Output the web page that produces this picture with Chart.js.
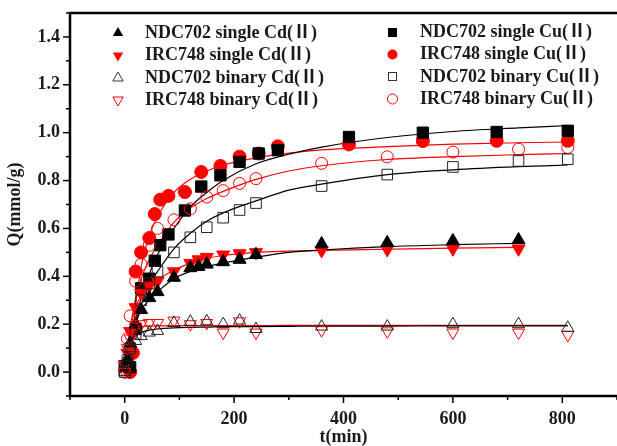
<!DOCTYPE html>
<html>
<head>
<meta charset="utf-8">
<script src="https://cdn.jsdelivr.net/npm/chart.js@4.4.1/dist/chart.umd.min.js"></script>
<style>
  html, body { margin: 0; padding: 0; background: #fff; }
</style>
</head>
<body>
<canvas id="myChart" width="617" height="446"></canvas>
<script>
// measured points, t in min, Q in mmol/g
var tCdSingle = [0, 5, 10, 20, 30, 45, 60, 90, 120, 135, 150, 180, 210, 240, 360, 480, 600, 720];
var ndcSingleCd = [0.02, 0.05, 0.12, 0.2, 0.26, 0.31, 0.335, 0.395, 0.435, 0.44, 0.45, 0.46, 0.47, 0.49, 0.535, 0.54, 0.548, 0.552];
var ircSingleCd = [0.03, 0.08, 0.17, 0.27, 0.33, 0.36, 0.38, 0.42, 0.455, 0.47, 0.48, 0.49, 0.495, 0.5, 0.508, 0.512, 0.515, 0.515];

var tBinary = [0, 5, 10, 20, 30, 45, 60, 90, 120, 150, 180, 210, 240, 360, 480, 600, 720, 810];
var ndcBinaryCd = [0.0, 0.06, 0.1, 0.13, 0.15, 0.165, 0.172, 0.205, 0.21, 0.212, 0.2, 0.215, 0.18, 0.19, 0.19, 0.2, 0.2, 0.185];
var ircBinaryCd = [0.0, 0.1, 0.14, 0.19, 0.2, 0.205, 0.205, 0.215, 0.2, 0.205, 0.165, 0.212, 0.165, 0.175, 0.17, 0.165, 0.165, 0.155];
var ndcBinaryCu = [0.0, 0.05, 0.1, 0.16, 0.3, 0.37, 0.42, 0.5, 0.563, 0.605, 0.645, 0.677, 0.706, 0.777, 0.825, 0.857, 0.882, 0.889];
var ircBinaryCu = [0.0, 0.14, 0.235, 0.38, 0.45, 0.53, 0.6, 0.636, 0.682, 0.731, 0.758, 0.788, 0.808, 0.872, 0.899, 0.919, 0.931, 0.938];

var tCuSingle = [0, 10, 20, 30, 45, 55, 65, 80, 110, 140, 175, 210, 245, 280, 410, 545, 680, 810];
var ndcSingleCu = [0.025, 0.02, 0.18, 0.35, 0.39, 0.465, 0.53, 0.575, 0.675, 0.775, 0.822, 0.878, 0.913, 0.927, 0.982, 1.0, 1.003, 1.008];
var tCuSingleIrc = [10, 15, 20, 30, 45, 55, 65, 80, 110, 140, 175, 210, 245, 280, 410, 545, 680, 810];
var ircSingleCu = [0.0, 0.08, 0.42, 0.5, 0.56, 0.66, 0.72, 0.736, 0.752, 0.836, 0.861, 0.9, 0.913, 0.943, 0.951, 0.965, 0.966, 0.966];

// fitted curves
var tFit = [0, 5, 10, 15, 20, 30, 45, 60, 90, 120, 150, 180, 240, 300, 360, 480, 600, 720, 810];
var fitNdcSingleCu = [0, 0.04, 0.1, 0.16, 0.22, 0.31, 0.41, 0.49, 0.6, 0.69, 0.75, 0.8, 0.87, 0.91, 0.94, 0.98, 1.005, 1.02, 1.03];
var fitIrcSingleCu = [0, 0, 0.05, 0.16, 0.28, 0.44, 0.57, 0.65, 0.75, 0.805, 0.84, 0.865, 0.895, 0.915, 0.928, 0.942, 0.952, 0.958, 0.961];
var fitIrcBinaryCu = [0, 0.1, 0.18, 0.25, 0.31, 0.39, 0.47, 0.53, 0.625, 0.685, 0.725, 0.755, 0.805, 0.84, 0.862, 0.888, 0.9, 0.908, 0.913];
var fitNdcBinaryCu = [0, 0.05, 0.1, 0.15, 0.2, 0.28, 0.365, 0.42, 0.515, 0.58, 0.63, 0.665, 0.715, 0.76, 0.785, 0.825, 0.845, 0.858, 0.865];
var fitNdcSingleCd = [0, 0.05, 0.1, 0.15, 0.2, 0.26, 0.3, 0.335, 0.39, 0.42, 0.44, 0.455, 0.48, 0.5, 0.51, 0.524, 0.532, 0.538];
var fitIrcSingleCd = [0, 0.1, 0.18, 0.23, 0.27, 0.32, 0.36, 0.385, 0.425, 0.455, 0.475, 0.487, 0.5, 0.505, 0.508, 0.513, 0.518, 0.521];
var fitNdcBinaryCd = [0, 0.06, 0.11, 0.135, 0.15, 0.165, 0.175, 0.18, 0.185, 0.187, 0.188, 0.19, 0.19, 0.191, 0.192, 0.192, 0.193, 0.193, 0.193];
var fitIrcBinaryCd = [0, 0.12, 0.17, 0.18, 0.185, 0.19, 0.192, 0.193, 0.194, 0.194, 0.194, 0.194, 0.194, 0.195, 0.195, 0.195, 0.195, 0.195, 0.195];

var legendLeft = ["NDC702 single Cd(Ⅱ)", "IRC748 single Cd(Ⅱ)", "NDC702 binary Cd(Ⅱ)", "IRC748 binary Cd(Ⅱ)"];
var legendRight = ["NDC702 single Cu(Ⅱ)", "IRC748 single Cu(Ⅱ)", "NDC702 binary Cu(Ⅱ)", "IRC748 binary Cu(Ⅱ)"];

var RED = '#ff0000';
var BLACK = '#000000';
var FONT = '"Liberation Serif", "Times New Roman", "Noto Sans CJK SC", serif';

function pts(ts, qs) {
    var out = [];
    for (var i = 0; i < qs.length; i++) out.push({x: ts[i], y: qs[i]});
    return out;
}

function marks(label, data, style, color, filled, radius, rot) {
    return {
        label: label,
        data: data,
        pointStyle: style,
        rotation: rot || 0,
        pointRadius: radius,
        pointHoverRadius: radius,
        pointBorderWidth: 1,
        borderColor: color,
        backgroundColor: filled ? color : 'rgba(255,255,255,0)',
        showLine: false,
        order: 1
    };
}

function fit(data, color) {
    return {
        data: data,
        showLine: true,
        pointRadius: 0,
        borderColor: color,
        borderWidth: 1.2,
        cubicInterpolationMode: 'monotone',
        order: 5
    };
}

// draws the two-column legend, frame and the major/minor ticks
var decor = {
    id: 'decor',
    afterDraw: function(chart) {
        var ctx = chart.ctx, a = chart.chartArea;
        var xs = chart.scales.x, ys = chart.scales.y;
        ctx.save();
        ctx.strokeStyle = '#000';
        ctx.lineWidth = 2.5;
        ctx.strokeRect(a.left, a.top, a.right - a.left + 3, a.bottom - a.top);
        ctx.lineWidth = 1.5;
        for (var i = -1; i <= 15; i++) {
            var py = ys.getPixelForValue(i / 10);
            var len = (i % 2 === 0) ? 7 : 4;
            ctx.beginPath(); ctx.moveTo(a.left - len, py); ctx.lineTo(a.left, py); ctx.stroke();
        }
        for (var j = -1; j <= 9; j++) {
            var px = xs.getPixelForValue(j * 100);
            var l2 = (j % 2 === 0) ? 7 : 4;
            ctx.beginPath(); ctx.moveTo(px, a.bottom); ctx.lineTo(px, a.bottom + l2); ctx.stroke();
        }

        var rowY = [33, 55.5, 78, 100];
        ctx.font = 'bold 18px ' + FONT;
        ctx.textBaseline = 'middle';
        ctx.textAlign = 'left';
        ctx.fillStyle = '#1a1a1a';
        for (var k = 0; k < 4; k++) {
            ctx.fillText(legendLeft[k], 145, rowY[k]);
            ctx.fillText(legendRight[k], 420, rowY[k] - 1);
        }
        ctx.lineWidth = 1;
        function tri(x, y, r, down, color, filled) {
            var s = down ? -1 : 1;
            ctx.beginPath();
            ctx.moveTo(x, y - s * r);
            ctx.lineTo(x + r * 0.866, y + s * r * 0.5);
            ctx.lineTo(x - r * 0.866, y + s * r * 0.5);
            ctx.closePath();
            if (filled) { ctx.fillStyle = color; ctx.fill(); }
            else { ctx.strokeStyle = color; ctx.stroke(); }
        }
        tri(118, rowY[0], 6, false, BLACK, true);
        tri(118, rowY[1], 6, true, RED, true);
        tri(118, rowY[2], 6, false, '#333', false);
        tri(118, rowY[3], 6, true, RED, false);
        ctx.fillStyle = BLACK;
        ctx.fillRect(388, rowY[0] - 5, 9, 9);
        ctx.beginPath(); ctx.arc(392.5, rowY[1] - 1, 5, 0, Math.PI * 2); ctx.fillStyle = RED; ctx.fill();
        ctx.strokeStyle = '#333';
        ctx.strokeRect(388.5, rowY[2] - 5.5, 8, 8);
        ctx.beginPath(); ctx.arc(392.5, rowY[3] - 1, 5, 0, Math.PI * 2); ctx.strokeStyle = RED; ctx.stroke();
        ctx.restore();
    }
};

new Chart(document.getElementById('myChart').getContext('2d'), {
    type: 'scatter',
    data: {
        datasets: [
            fit(pts(tFit, fitNdcSingleCu), BLACK),
            fit(pts(tFit, fitIrcSingleCu), RED),
            fit(pts(tFit, fitNdcBinaryCu), BLACK),
            fit(pts(tFit, fitIrcBinaryCu), RED),
            fit(pts(tFit.slice(0, 18), fitNdcSingleCd), BLACK),
            fit(pts(tFit.slice(0, 18), fitIrcSingleCd), RED),
            fit(pts(tFit, fitNdcBinaryCd), BLACK),
            fit(pts(tFit, fitIrcBinaryCd), RED),
            marks(legendLeft[2], pts(tBinary, ndcBinaryCd), 'triangle', '#222', false, 7),
            marks(legendLeft[3], pts(tBinary, ircBinaryCd), 'triangle', RED, false, 7, 180),
            marks(legendRight[2], pts(tBinary, ndcBinaryCu), 'rect', '#222', false, 7.5),
            marks(legendRight[3], pts(tBinary, ircBinaryCu), 'circle', RED, false, 6),
            marks(legendLeft[0], pts(tCdSingle, ndcSingleCd), 'triangle', BLACK, true, 7.5),
            marks(legendLeft[1], pts(tCdSingle, ircSingleCd), 'triangle', RED, true, 7.5, 180),
            marks(legendRight[0], pts(tCuSingle, ndcSingleCu), 'rect', BLACK, true, 8),
            marks(legendRight[1], pts(tCuSingleIrc, ircSingleCu), 'circle', RED, true, 6.5)
        ]
    },
    options: {
        responsive: false,
        animation: false,
        layout: { autoPadding: false, padding: { top: 13, right: 0, left: 0, bottom: 0 } },
        plugins: {
            legend: { display: false },
            tooltip: { enabled: false }
        },
        scales: {
            x: {
                type: 'linear',
                min: -100,
                max: 900,
                afterFit: function(s) { s.height = 50; s.paddingLeft = 0; s.paddingRight = 0; },
                grid: { display: false, drawTicks: false },
                border: { display: false },
                ticks: {
                    stepSize: 100,
                    autoSkip: false,
                    maxRotation: 0,
                    padding: 13,
                    color: '#1a1a1a',
                    font: { family: FONT, size: 18, weight: 'bold' },
                    callback: function(v) {
                        return (v < 0 || v > 800 || Math.round(v) % 200 !== 0) ? '' : String(v);
                    }
                },
                title: {
                    display: true,
                    text: 't(min)',
                    color: '#1a1a1a',
                    padding: 0,
                    font: { family: FONT, size: 18, weight: 'bold', lineHeight: 1 }
                }
            },
            y: {
                type: 'linear',
                min: -0.1,
                max: 1.5,
                afterFit: function(s) { s.width = 70; s.paddingTop = 0; s.paddingBottom = 0; },
                grid: { display: false, drawTicks: false },
                border: { display: false },
                ticks: {
                    stepSize: 0.1,
                    autoSkip: false,
                    padding: 10,
                    color: '#1a1a1a',
                    font: { family: FONT, size: 18, weight: 'bold' },
                    callback: function(v) {
                        var r = Math.round(v * 10);
                        if (r % 2 !== 0 || r < 0 || r > 14) return '';
                        return (r / 10).toFixed(1);
                    }
                },
                title: {
                    display: true,
                    text: 'Q(mmol/g)',
                    color: '#1a1a1a',
                    padding: 6,
                    font: { family: FONT, size: 18, weight: 'bold', lineHeight: 1 }
                }
            }
        }
    },
    plugins: [decor]
});
</script>
</body>
</html>
